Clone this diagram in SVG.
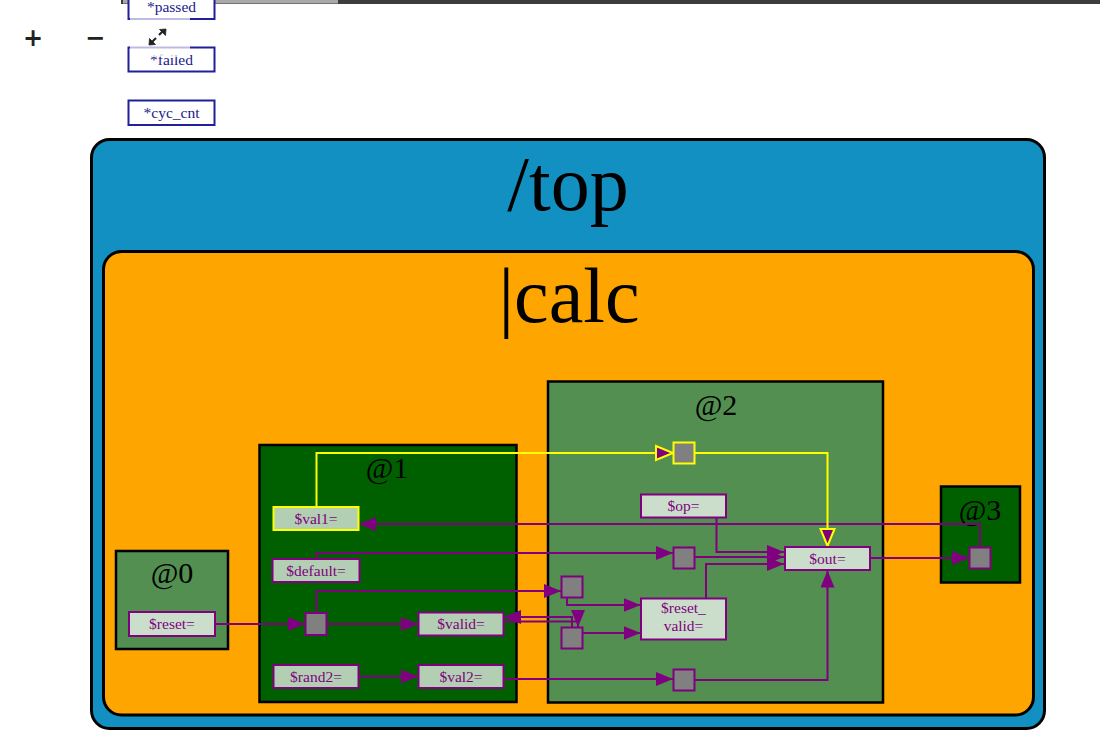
<svg xmlns="http://www.w3.org/2000/svg" width="1100" height="749" viewBox="0 0 1100 749">
<style>
.t{font-family:"Liberation Serif","Times New Roman",serif;text-anchor:middle}
.nl{font-size:15.5px;fill:#800080}
.sl{font-size:30px;fill:#000}
.big{font-size:78px;fill:#000}
.node{fill:#fff;fill-opacity:0.7;stroke:#800080;stroke-width:2}
.gs{fill:#808080;stroke:#800080;stroke-width:2}
.stage{stroke:#000;stroke-width:2.5}
.c{fill:none;stroke:#800080;stroke-width:2}
.cy{fill:none;stroke:#ffff00;stroke-width:2}
.sig{fill:#fff;stroke:#20209a;stroke-width:2}
.sigt{font-family:"Liberation Serif","Times New Roman",serif;font-size:15.5px;fill:#1a1a8c;text-anchor:middle}
</style>
<defs>
<marker id="arr" viewBox="0 0 17 14" refX="17" refY="7" markerWidth="17" markerHeight="14" markerUnits="userSpaceOnUse" orient="auto">
<path d="M0,0 L17,7 L0,14 z" fill="#800080"/>
</marker>
<marker id="arry" viewBox="-2 -2 21 18" refX="17" refY="7" markerWidth="21" markerHeight="18" markerUnits="userSpaceOnUse" orient="auto">
<path d="M0,0 L17,7 L0,14 z" fill="#800080" stroke="#ffff00" stroke-width="2"/>
</marker>
</defs>
<rect width="1100" height="749" fill="#fff"/>
<g id="scrollbar">
<rect x="121" y="0" width="979" height="4" fill="#3d3d3d"/>
<rect x="123" y="0" width="215" height="3.5" fill="#a9a9a9"/>
<rect x="196" y="0" width="4" height="3.5" fill="#555"/>
</g>
<g id="sig_passed"><rect class="sig" x="128.5" y="-6" width="86" height="25"/><text class="sigt" x="171.5" y="12">*passed</text></g>
<g id="sig_failed"><rect class="sig" x="128.5" y="47.5" width="86" height="24"/><text class="sigt" x="171.5" y="65">*failed</text></g>
<g id="sig_cyc_cnt"><rect class="sig" x="128.5" y="100.5" width="86" height="24.5"/><text class="sigt" x="171.5" y="118">*cyc_cnt</text></g>
<g id="toolbar">
<rect x="130" y="18" width="60" height="39" fill="#fff" fill-opacity="0.7"/>
<text x="33" y="46" font-family="DejaVu Sans,sans-serif" font-weight="bold" font-size="24" fill="#222" text-anchor="middle">+</text>
<text x="95" y="46" font-family="DejaVu Sans,sans-serif" font-weight="bold" font-size="24" fill="#222" text-anchor="middle">−</text>
<g stroke="#222" stroke-width="2.2" fill="#222">
<line x1="152" y1="42" x2="156" y2="38"/>
<line x1="159" y1="35" x2="163" y2="31"/>
<path d="M149,45 L149.5,38.5 L155.5,44.5 z" stroke-width="0.8"/>
<path d="M166,29 L165.5,35.5 L159.5,29.5 z" stroke-width="0.8"/>
</g>
</g>
<g id="top">
<rect x="91.5" y="139.5" width="953" height="589" rx="18" fill="#1190c1" stroke="#000" stroke-width="3"/>
<text class="t big" x="568" y="210">/top</text>
</g>
<g id="calc">
<rect x="103.5" y="251.5" width="930" height="463.5" rx="18" fill="#ffa500" stroke="#000" stroke-width="3"/>
<text class="t big" x="569" y="322">|calc</text>
</g>
<g id="stage0"><rect class="stage" x="116" y="551" width="112" height="98" fill="#528f50"/><text class="t sl" x="172" y="583">@0</text></g>
<g id="stage1"><rect class="stage" x="259.5" y="445" width="257" height="257" fill="#006000"/><text class="t sl" x="387" y="478">@1</text></g>
<g id="stage2"><rect class="stage" x="548" y="381.5" width="335" height="321" fill="#528f50"/><text class="t sl" x="716" y="415">@2</text></g>
<g id="stage3"><rect class="stage" x="941" y="486.5" width="79" height="96" fill="#006000"/><text class="t sl" x="980" y="520">@3</text></g>
<g id="connectors">
<path class="c" d="M215,624 H305" marker-end="url(#arr)"/>
<path class="c" d="M327,624 H418" marker-end="url(#arr)"/>
<path class="c" d="M316.5,613 V591 H561" marker-end="url(#arr)"/>
<path class="c" d="M316.5,559 V553 H673" marker-end="url(#arr)"/>
<path class="c" d="M694.5,557 H784" marker-end="url(#arr)"/>
<path class="c" d="M716.5,517.5 V552 H784" marker-end="url(#arr)"/>
<path class="c" d="M706,598.5 V564 H784" marker-end="url(#arr)"/>
<path class="c" d="M870,558 H969" marker-end="url(#arr)"/>
<path class="c" d="M980,547.5 V524 H359" marker-end="url(#arr)"/>
<path class="c" d="M358.5,676.5 H418" marker-end="url(#arr)"/>
<path class="c" d="M503.5,679 H673" marker-end="url(#arr)"/>
<path class="c" d="M694.5,680 H827.5 V570.5" marker-end="url(#arr)"/>
<path class="c" d="M567,597.5 V605 H640.5" marker-end="url(#arr)"/>
<path class="c" d="M582.5,633 H640.5" marker-end="url(#arr)"/>
<path class="c" d="M572,627.5 V617 H504" marker-end="url(#arr)"/>
<path class="c" d="M503.5,621.5 H578 V627" marker-end="url(#arr)"/>
<path class="cy" d="M316.5,507 V453 H673" marker-end="url(#arry)"/>
<path class="cy" d="M694.5,453 H827.5 V546" marker-end="url(#arry)"/>
</g>
<g id="n_reset"><rect class="node" x="129" y="612" width="86" height="24"/><text class="t nl" x="172" y="629">$reset=</text></g>
<g id="n_val1"><rect class="node" x="273.5" y="507" width="85" height="23" style="stroke:#ffff00"/><text class="t nl" x="316" y="524">$val1=</text></g>
<g id="n_default"><rect class="node" x="272.5" y="559" width="87" height="23"/><text class="t nl" x="316" y="576">$default=</text></g>
<g id="g_valid_in"><rect class="gs" x="305.5" y="613" width="21" height="22"/></g>
<g id="n_valid"><rect class="node" x="418.5" y="612.5" width="85" height="23"/><text class="t nl" x="461" y="629">$valid=</text></g>
<g id="n_rand2"><rect class="node" x="273.5" y="665" width="85" height="23"/><text class="t nl" x="316" y="682">$rand2=</text></g>
<g id="n_val2"><rect class="node" x="418.5" y="665" width="85" height="23"/><text class="t nl" x="461" y="682">$val2=</text></g>
<g id="g_val1_2"><rect class="gs" x="673.5" y="442.5" width="21" height="21" style="stroke:#ffff00"/></g>
<g id="n_op"><rect class="node" x="641" y="494.5" width="85" height="23"/><text class="t nl" x="683.5" y="511">$op=</text></g>
<g id="g_default_2"><rect class="gs" x="673.5" y="547.5" width="21" height="21"/></g>
<g id="n_out"><rect class="node" x="785" y="547" width="85" height="23"/><text class="t nl" x="827.5" y="564">$out=</text></g>
<g id="g_valid_2a"><rect class="gs" x="561.5" y="576.5" width="21" height="21"/></g>
<g id="g_valid_2b"><rect class="gs" x="561.5" y="627.5" width="21" height="21"/></g>
<g id="n_reset_valid"><rect class="node" x="641" y="598.5" width="85" height="41"/><text class="t nl" x="683.5" y="613">$reset_</text><text class="t nl" x="683.5" y="631">valid=</text></g>
<g id="g_val2_2"><rect class="gs" x="673.5" y="669.5" width="21" height="21"/></g>
<g id="g_out_3"><rect class="gs" x="969.5" y="547.5" width="21" height="21"/></g>
</svg>
